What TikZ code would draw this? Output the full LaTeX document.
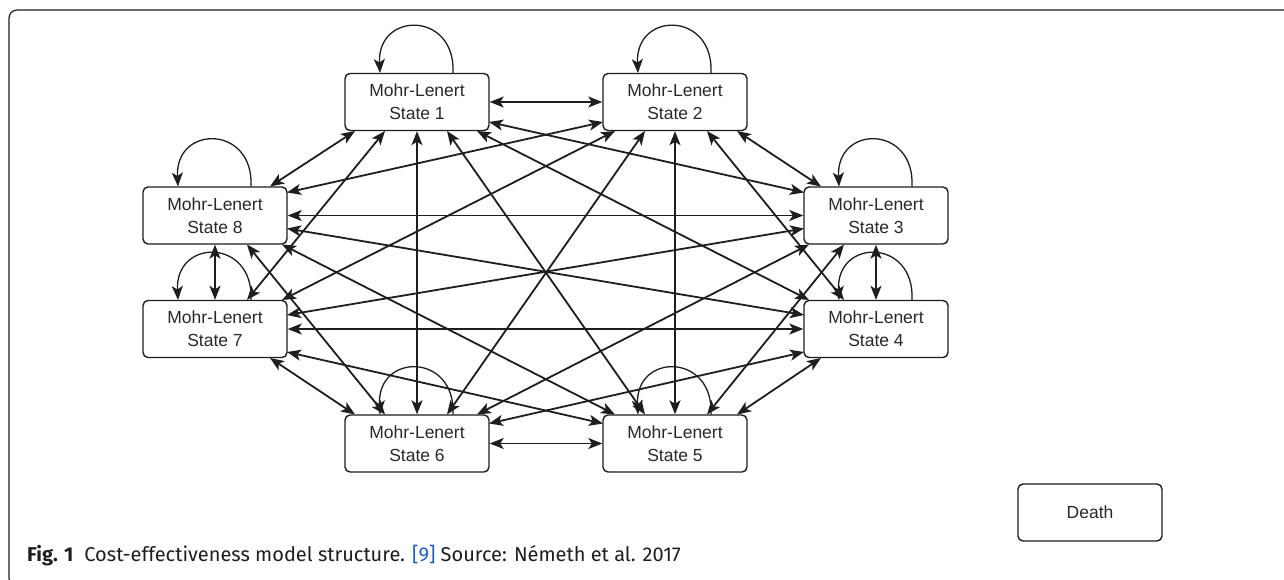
\documentclass[tikz,border=0pt]{standalone}
\usepackage{fontspec}
\setmainfont{Liberation Sans}
\newfontfamily\capfont{Fira Sans}
\usetikzlibrary{arrows.meta,calc}
\definecolor{ink}{HTML}{1E1E1E}
\definecolor{refblue}{HTML}{1F5FBF}
\begin{document}
\begin{tikzpicture}[x=1pt,y=-1pt,
  state/.style={draw=ink, line width=1.4pt, rounded corners=5pt, minimum width=144pt, minimum height=57pt, inner sep=0pt, align=center, font=\fontsize{17.5}{23}\selectfont, text=ink!95},
  tip/.tip={Stealth[length=14pt,width=11pt,inset=3.5pt]},
  link/.style={draw=ink, line width=1.8pt, tip-tip},
  selfloop/.style={draw=ink, line width=1.3pt, -tip}
]
\useasboundingbox (0,0) rectangle (1284,580);
\fill[white] (0,0) rectangle (1284,580);
\begin{scope}
\clip (0,0) rectangle (1284,580);
\draw[ink, line width=1.2pt, rounded corners=8pt] (9,10) rectangle (1300,586);
\end{scope}

\node[state] (s1) at (417,102) {Mohr-Lenert\\State 1};
\node[state] (s2) at (675,102) {Mohr-Lenert\\State 2};
\node[state] (s8) at (215,215.5) {Mohr-Lenert\\State 8};
\node[state] (s3) at (876,215.5) {Mohr-Lenert\\State 3};
\node[state] (s7) at (215,329) {Mohr-Lenert\\State 7};
\node[state] (s4) at (876,329) {Mohr-Lenert\\State 4};
\node[state] (s6) at (417,443.5) {Mohr-Lenert\\State 6};
\node[state] (s5) at (675,443.5) {Mohr-Lenert\\State 5};
\node[state] (death) at (1090,512.5) {Death};

% horizontal and vertical
\draw[link] (s1.east) -- (s2.west);
\draw[link] (s6.east) -- (s5.west);
\draw[link] (s8.east) -- (s3.west);
\draw[link] (s7.east) -- (s4.west);
\draw[link] (s8.south) -- (s7.north);
\draw[link] (s3.south) -- (s4.north);
\draw[link] (s1.south) -- (s6.north);
\draw[link] (s2.south) -- (s5.north);
% side to side, shallow
\draw[link] ($(s1)+(72,20)$) -- ($(s3)+(-72,-23)$);
\draw[link] ($(s2)+(-72,20)$) -- ($(s8)+(72,-23)$);
\draw[link] ($(s6)+(72,-20)$) -- ($(s4)+(-72,23)$);
\draw[link] ($(s5)+(-72,-20)$) -- ($(s7)+(72,23)$);
\draw[link] ($(s8)+(72,13)$) -- ($(s4)+(-72,-14)$);
\draw[link] ($(s3)+(-72,13)$) -- ($(s7)+(72,-14)$);
% slope about one half
\draw[link] ($(s1)+(60,29)$) -- ($(s4)+(-67,-29)$);
\draw[link] ($(s2)+(-60,29)$) -- ($(s7)+(67,-29)$);
\draw[link] ($(s6)+(60,-29)$) -- ($(s3)+(-67,29)$);
\draw[link] ($(s5)+(-60,-29)$) -- ($(s8)+(67,29)$);
% steep
\draw[link] ($(s1)+(30,29)$) -- ($(s5)+(-30,-29)$);
\draw[link] ($(s2)+(-30,29)$) -- ($(s6)+(30,-29)$);
\draw[link] ($(s1)+(-32,29)$) -- ($(s7)+(32,-29)$);
\draw[link] ($(s2)+(32,29)$) -- ($(s4)+(-32,-29)$);
\draw[link] ($(s6)+(-32,-29)$) -- ($(s8)+(32,29)$);
\draw[link] ($(s5)+(32,-29)$) -- ($(s3)+(-32,29)$);
% neighbours
\draw[link] ($(s1)+(-62,29)$) -- ($(s8)+(55,-29)$);
\draw[link] ($(s2)+(62,29)$) -- ($(s3)+(-55,-29)$);
\draw[link] ($(s6)+(-62,-29)$) -- ($(s7)+(55,29)$);
\draw[link] ($(s5)+(62,-29)$) -- ($(s4)+(-55,29)$);

% self loops
\foreach \n in {s1,s2,s8,s3,s7,s4,s6,s5}{
  \draw[selfloop] ($(\n)+(36,-29)$) .. controls +(3,-62) and +(-3,-62) .. ($(\n)+(-37,-29)$);
}

\node[anchor=base west, font=\capfont\fontsize{20}{22}\selectfont, text=ink, inner sep=0pt] (cap) at (27,561)
  {\textbf{Fig. 1}\hspace{0.55em}Cost-effectiveness model structure. \textcolor{refblue}{[9]} Source: Németh et al. 2017};
\end{tikzpicture}
\end{document}
